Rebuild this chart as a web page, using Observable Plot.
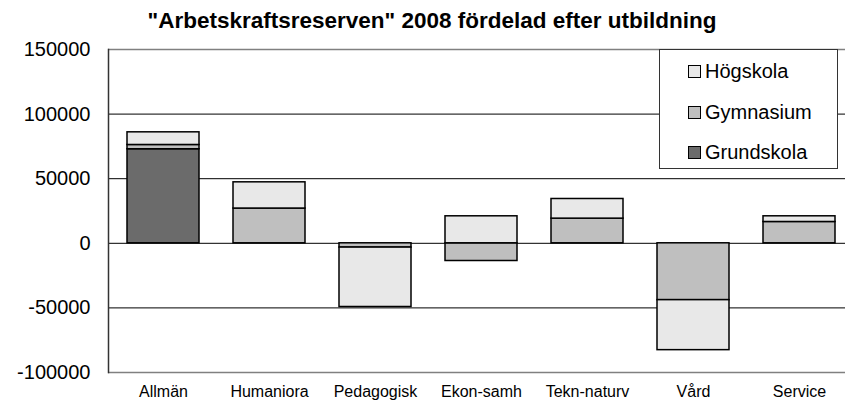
<!DOCTYPE html>
<html>
<head>
<meta charset="utf-8">
<script src="https://cdn.jsdelivr.net/npm/d3@7"></script>
<script src="https://cdn.jsdelivr.net/npm/@observablehq/plot@0.6"></script>
<style>
  html, body { margin: 0; padding: 0; background: #fff; }
  #wrap { position: relative; width: 845px; height: 403px; overflow: hidden; font-family: "Liberation Sans", Arial, sans-serif; }
  #legend { position: absolute; left: 659px; top: 49px; width: 179px; height: 120px; border: 1px solid #333; background: #fff; box-sizing: border-box; }
  .item { position: absolute; left: 28px; height: 22px; display: flex; align-items: center; font-size: 20px; color: #000; }
  .sw { width: 11px; height: 11px; border: 1.5px solid #000; margin-right: 4px; }
</style>
</head>
<body>
<div id="wrap"></div>
<script>
const categories = ["Allmän", "Humaniora", "Pedagogisk", "Ekon-samh", "Tekn-naturv", "Vård", "Service"];
const series = ["Grundskola", "Gymnasium", "Högskola"];
const grundskola = [72800, 0, 0, 0, 0, 0, 0];
const gymnasium = [3300, 26900, -3300, -13700, 19100, -44000, 16500];
const hogskola = [9800, 20300, -46000, 20900, 15200, -38700, 4400];
const yTicks = [-100000, -50000, 0, 50000, 100000, 150000];
const colors = ["#6b6b6b", "#bfbfbf", "#e8e8e8"];
const title = '"Arbetskraftsreserven" 2008 fördelad efter utbildning';

const valuesBySeries = [grundskola, gymnasium, hogskola];
const rows = [];
series.forEach((s, i) => {
  categories.forEach((c, j) => {
    const v = valuesBySeries[i][j];
    if (v !== 0) rows.push({category: c, series: s, value: v});
  });
});

const plot = Plot.plot({
  width: 845,
  height: 403,
  marginTop: 49,
  marginBottom: 31,
  marginLeft: 108,
  marginRight: 0,
  style: {fontFamily: "Liberation Sans, Arial, sans-serif", background: "white", color: "black"},
  x: {domain: categories, range: [108, 854], paddingInner: 0.325, paddingOuter: 0.1625, label: null},
  y: {domain: [-100000, 150000], label: null},
  color: {domain: series, range: colors},
  marks: [
    Plot.ruleY(yTicks.filter(v => v !== -100000 && v !== 150000), {stroke: "#000", strokeWidth: 1}),
    Plot.ruleY([150000, -100000], {stroke: "#808080", strokeWidth: 1.5}),
    Plot.frame({anchor: "left", stroke: "#333", strokeWidth: 1.5}),
    Plot.barY(rows, {x: "category", y: "value", fill: "series", stroke: "#000", strokeWidth: 1.5, insetLeft: 0, insetRight: 0}),
    Plot.axisY({ticks: yTicks, tickSize: 0, tickPadding: 18, fontSize: 20, tickFormat: d => String(d), label: null}),
    Plot.axisX({tickSize: 0, tickPadding: 13, fontSize: 16, label: null}),
    Plot.text([title], {frameAnchor: "top", dx: -45, dy: -22, lineAnchor: "bottom", textAnchor: "middle", fontSize: 22.5, fontWeight: "bold"})
  ]
});

const wrap = document.getElementById("wrap");
wrap.appendChild(plot);

const legend = document.createElement("div");
legend.id = "legend";
const tops = [10, 51, 91];
series.slice().reverse().forEach((s, i) => {
  const item = document.createElement("div");
  item.className = "item";
  item.style.top = tops[i] + "px";
  const sw = document.createElement("span");
  sw.className = "sw";
  sw.style.background = colors[series.indexOf(s)];
  const tx = document.createElement("span");
  tx.textContent = s;
  item.appendChild(sw);
  item.appendChild(tx);
  legend.appendChild(item);
});
wrap.appendChild(legend);
</script>
</body>
</html>
